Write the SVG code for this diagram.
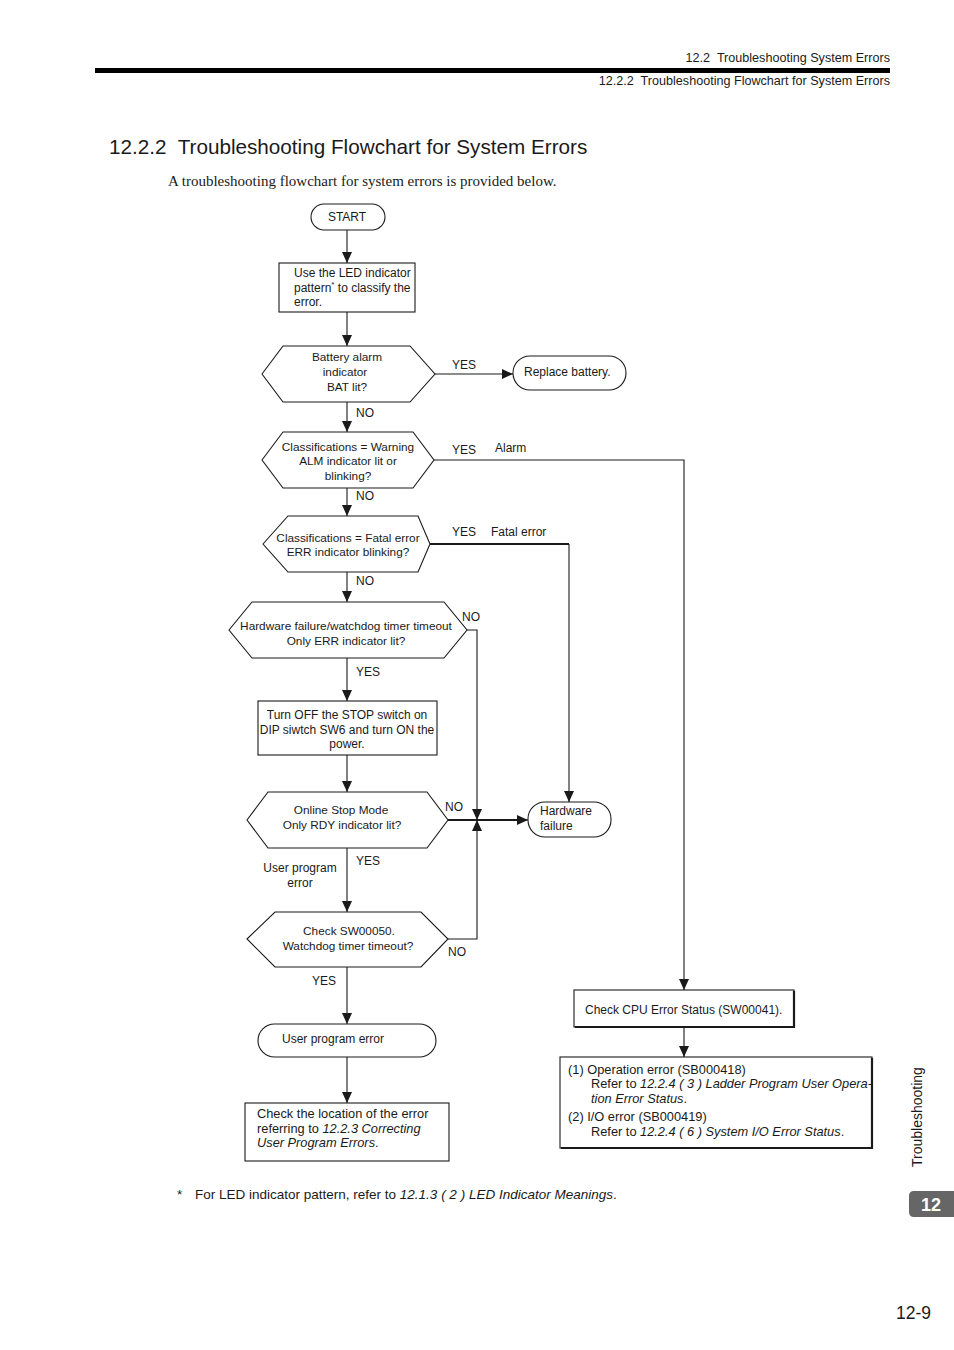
<svg xmlns="http://www.w3.org/2000/svg" width="954" height="1350" viewBox="0 0 954 1350">
<defs>
<style>
.t{font-family:"Liberation Sans",Arial,sans-serif;fill:#1a1a1a;}
.pre{white-space:pre;}
.n{font-size:12px;}
.h{font-size:11.8px;}
.l{font-size:12px;}
.b{font-size:12.8px;}
.i{font-style:italic;}
.m{text-anchor:middle;}
.shape{fill:#fff;stroke:#1a1a1a;stroke-width:1.1;}
.c{fill:none;stroke:#1a1a1a;stroke-width:1.1;}
.ck{fill:none;stroke:#1a1a1a;stroke-width:2.2;}
.sh{fill:none;stroke:#1a1a1a;stroke-width:2.2;}
</style>
<marker id="ah" viewBox="0 0 11 11" refX="11" refY="5.5" markerWidth="11" markerHeight="11" orient="auto" markerUnits="userSpaceOnUse">
<path d="M0,0.5 L11,5.5 L0,10.5 z" fill="#1a1a1a"/>
</marker>
</defs>
<rect width="954" height="1350" fill="#fff"/>

<g id="header">
<text class="t pre" x="890" y="62" font-size="12.6" text-anchor="end" xml:space="preserve">12.2  Troubleshooting System Errors</text>
<rect x="95" y="68" width="795" height="5" fill="#000"/>
<text class="t pre" x="890" y="85" font-size="12.6" text-anchor="end" xml:space="preserve">12.2.2  Troubleshooting Flowchart for System Errors</text>
<text class="t pre" x="109" y="154" font-size="20.7" xml:space="preserve">12.2.2  Troubleshooting Flowchart for System Errors</text>
<text x="168" y="186" font-size="15" font-family="'Liberation Serif','Times New Roman',serif" fill="#1a1a1a">A troubleshooting flowchart for system errors is provided below.</text>
</g>

<g id="connectors">
<path class="c" d="M347,230 V263" marker-end="url(#ah)"/>
<path class="c" d="M347,312 V346" marker-end="url(#ah)"/>
<path class="c" d="M434,374 H513" marker-end="url(#ah)"/>
<path class="c" d="M347,402 V432" marker-end="url(#ah)"/>
<path class="c" d="M434,460 H684 V990" marker-end="url(#ah)"/>
<path class="c" d="M347,488 V516" marker-end="url(#ah)"/>
<path class="ck" d="M430,544 H569"/>
<path class="c" d="M569,544 V802" marker-end="url(#ah)"/>
<path class="c" d="M347,572 V602" marker-end="url(#ah)"/>
<path class="c" d="M467,630 H477 V820" marker-end="url(#ah)"/>
<path class="c" d="M347,658 V701" marker-end="url(#ah)"/>
<path class="c" d="M347,755 V792" marker-end="url(#ah)"/>
<path class="ck" d="M448,820 H520"/>
<path class="c" d="M516,820 H528" marker-end="url(#ah)"/>
<path class="c" d="M347,848 V912" marker-end="url(#ah)"/>
<path class="c" d="M448,939 H477 V820" marker-end="url(#ah)"/>
<path class="c" d="M347,967 V1024" marker-end="url(#ah)"/>
<path class="c" d="M347,1057 V1103" marker-end="url(#ah)"/>
<path class="c" d="M684,1027 V1057" marker-end="url(#ah)"/>
<g class="t l">
<text x="452" y="369">YES</text>
<text x="356" y="417">NO</text>
<text x="452" y="454">YES</text>
<text x="495" y="452">Alarm</text>
<text x="356" y="500">NO</text>
<text x="452" y="536">YES</text>
<text x="491" y="536">Fatal error</text>
<text x="356" y="585">NO</text>
<text x="462" y="621">NO</text>
<text x="356" y="676">YES</text>
<text x="445" y="811">NO</text>
<text x="356" y="865">YES</text>
<text x="300" y="872" class="m">User program</text>
<text x="300" y="887" class="m">error</text>
<text x="448" y="956">NO</text>
<text x="312" y="985">YES</text>
</g>
</g>

<g id="start">
<rect class="shape" x="311" y="204" width="74" height="26" rx="13"/>
<text class="t n m" x="347" y="221">START</text>
</g>

<g id="classify">
<rect class="shape" x="279" y="263" width="136" height="49"/>
<text class="t n" x="294" y="277">Use the LED indicator</text>
<text class="t n" x="294" y="292">pattern<tspan font-size="8" dy="-5">*</tspan><tspan dy="5"> to classify the</tspan></text>
<text class="t n" x="294" y="306">error.</text>
</g>

<g id="bat">
<polygon class="shape" points="262,374 283,346 410,346 435,374 410,402 283,402"/>
<text class="t h m" x="347" y="361">Battery alarm</text>
<text class="t h m" x="345" y="376">indicator</text>
<text class="t h m" x="347" y="391">BAT lit?</text>
</g>

<g id="replace">
<rect class="shape" x="513" y="356" width="113" height="34" rx="17"/>
<text class="t n" x="524" y="376">Replace battery.</text>
</g>

<g id="warning">
<polygon class="shape" points="262,460 283,432 413,432 434,460 413,488 283,488"/>
<text class="t h m" x="348" y="451">Classifications = Warning</text>
<text class="t h m" x="348" y="465">ALM indicator lit or</text>
<text class="t h m" x="348" y="480">blinking?</text>
</g>

<g id="fatal">
<polygon class="shape" points="263,544 288,516 418,516 430,544 418,572 288,572"/>
<text class="t h m" x="348" y="542">Classifications = Fatal error</text>
<text class="t h m" x="348" y="556">ERR indicator blinking?</text>
</g>

<g id="hwcheck">
<polygon class="shape" points="229,630 252,602 444,602 467,630 444,658 252,658"/>
<text class="t h m" x="346" y="630">Hardware failure/watchdog timer timeout</text>
<text class="t h m" x="346" y="645">Only ERR indicator lit?</text>
</g>

<g id="turnoff">
<rect class="shape" x="258" y="701" width="179" height="54"/>
<text class="t n m" x="347" y="719">Turn OFF the STOP switch on</text>
<text class="t n m" x="347" y="734">DIP siwtch SW6 and turn ON the</text>
<text class="t n m" x="347" y="748">power.</text>
</g>

<g id="online">
<polygon class="shape" points="247,820 268,792 427,792 448,820 427,848 268,848"/>
<text class="t h m" x="341" y="814">Online Stop Mode</text>
<text class="t h m" x="342" y="829">Only RDY indicator lit?</text>
</g>

<g id="hwfail">
<rect class="shape" x="528" y="802" width="83" height="35" rx="17"/>
<text class="t n" x="540" y="815">Hardware</text>
<text class="t n" x="540" y="830">failure</text>
</g>

<g id="sw50">
<polygon class="shape" points="247,939 275,912 421,912 448,939 421,967 275,967"/>
<text class="t h m" x="349" y="935">Check SW00050.</text>
<text class="t h m" x="348" y="950">Watchdog timer timeout?</text>
</g>

<g id="uperr">
<rect class="shape" x="258" y="1024" width="178" height="33" rx="16.5"/>
<text class="t n" x="282" y="1043">User program error</text>
</g>

<g id="checkloc">
<rect class="shape" x="245" y="1103" width="204" height="58"/>
<text class="t b" x="257" y="1118">Check the location of the error</text>
<text class="t b" x="257" y="1133">referring to <tspan class="i">12.2.3 Correcting</tspan></text>
<text class="t b" x="257" y="1147"><tspan class="i">User Program Errors</tspan>.</text>
</g>

<g id="cpu">
<rect class="shape" x="574" y="990" width="220" height="37"/>
<path class="sh" d="M575,1027 H794 V991"/>
<text class="t" x="585" y="1014" font-size="12">Check CPU Error Status (SW00041).</text>
</g>

<g id="detail">
<rect class="shape" x="560" y="1057" width="312" height="91"/>
<path class="sh" d="M561,1148 H872 V1058"/>
<text class="t b" x="568" y="1074">(1) Operation error (SB000418)</text>
<text class="t b" x="591" y="1088">Refer to <tspan class="i">12.2.4 ( 3 ) Ladder Program User Opera-</tspan></text>
<text class="t b" x="591" y="1103"><tspan class="i">tion Error Status</tspan>.</text>
<text class="t b" x="568" y="1121">(2) I/O error (SB000419)</text>
<text class="t b" x="591" y="1136">Refer to <tspan class="i">12.2.4 ( 6 ) System I/O Error Status</tspan>.</text>
</g>

<g id="footer">
<text class="t" x="177" y="1199" font-size="13.5">*</text>
<text class="t" x="195" y="1199" font-size="13.5">For LED indicator pattern, refer to <tspan class="i">12.1.3 ( 2 ) LED Indicator Meanings</tspan>.</text>
<text class="t" x="0" y="0" font-size="14" transform="translate(922,1167) rotate(-90)" fill="#333">Troubleshooting</text>
<path d="M954,1191 H914 Q909,1191 909,1196 V1212 Q909,1217 914,1217 H954 Z" fill="#666"/>
<text x="931" y="1211" font-family="'Liberation Sans',Arial,sans-serif" font-weight="bold" font-size="18" fill="#fff" text-anchor="middle">12</text>
<text class="t" x="931" y="1319" font-size="17.5" text-anchor="end">12-9</text>
</g>
</svg>
